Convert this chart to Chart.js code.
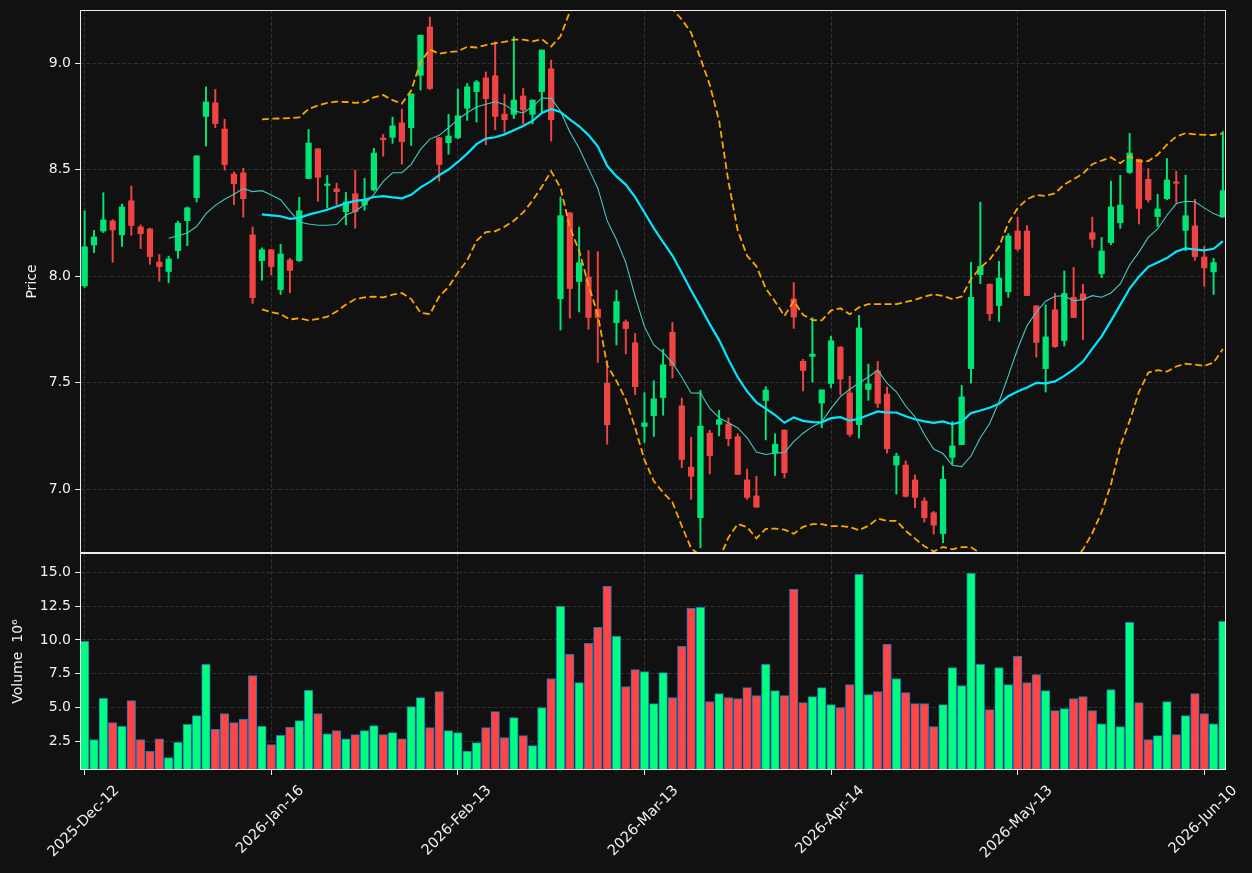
<!DOCTYPE html>
<html>
<head>
<meta charset="utf-8">
<script src="https://cdn.jsdelivr.net/npm/chart.js@4.4.1/dist/chart.umd.min.js"></script>
<style>
html, body { margin: 0; padding: 0; background: #111111; }
#wrap { position: relative; width: 1252px; height: 873px; overflow: hidden; }
canvas { position: absolute; left: 0; }
#cPrice { top: 0; }
#cVol { top: 553px; }
</style>
</head>
<body>
<div id="wrap">
  <canvas id="cPrice" width="1252" height="553"></canvas>
  <canvas id="cVol" width="1252" height="320"></canvas>
</div>
<script>
// x-axis labels (bar index -> date)
const tickIdx = [0, 20, 40, 60, 80, 100, 120];
const tickLabels = ['2025-Dec-12', '2026-Jan-16', '2026-Feb-13', '2026-Mar-13', '2026-Apr-14', '2026-May-13', '2026-Jun-10'];
const priceTicks = [7.0, 7.5, 8.0, 8.5, 9.0];
const volTicks = [2.5, 5.0, 7.5, 10.0, 12.5, 15.0];

// OHLC, one value per trading day
const opens = [7.955, 8.146, 8.212, 8.259, 8.194, 8.354, 8.231, 8.222, 8.066, 8.022,
  8.120, 8.261, 8.369, 8.750, 8.814, 8.691, 8.480, 8.485, 8.194, 8.073,
  8.124, 7.937, 8.076, 8.073, 8.459, 8.598, 8.426, 8.410, 8.303, 8.387,
  8.335, 8.405, 8.644, 8.652, 8.720, 8.697, 8.943, 9.170, 8.650, 8.627,
  8.650, 8.789, 8.867, 8.931, 8.941, 8.761, 8.760, 8.846, 8.760, 8.866,
  8.974, 7.894, 8.297, 7.975, 7.996, 7.845, 7.497, 7.782, 7.785, 7.687,
  7.294, 7.345, 7.430, 7.737, 7.391, 7.103, 6.866, 7.263, 7.304, 7.306,
  7.246, 7.043, 6.968, 7.416, 7.169, 7.277, 7.893, 7.600, 7.623, 7.404,
  7.496, 7.667, 7.452, 7.303, 7.468, 7.555, 7.446, 7.113, 7.113, 7.043,
  6.944, 6.889, 6.791, 7.149, 7.209, 7.566, 8.007, 7.962, 7.862, 7.927,
  8.212, 8.212, 7.860, 7.566, 7.842, 7.698, 7.901, 7.917, 8.204, 8.012,
  8.158, 8.251, 8.487, 8.549, 8.455, 8.280, 8.364, 8.442, 8.215, 8.236,
  8.090, 8.020, 8.278];
const highs = [8.307, 8.215, 8.392, 8.266, 8.339, 8.423, 8.241, 8.226, 8.102, 8.094,
  8.258, 8.325, 8.565, 8.889, 8.877, 8.737, 8.490, 8.506, 8.231, 8.133,
  8.126, 8.150, 8.084, 8.370, 8.689, 8.600, 8.473, 8.437, 8.393, 8.498,
  8.459, 8.601, 8.666, 8.747, 8.784, 8.856, 9.132, 9.217, 8.652, 8.760,
  8.879, 8.905, 8.920, 8.959, 9.100, 8.854, 9.124, 8.882, 8.828, 9.062,
  9.015, 8.372, 8.299, 8.230, 8.120, 8.115, 7.603, 7.934, 7.795, 7.731,
  7.453, 7.509, 7.657, 7.783, 7.428, 7.244, 7.464, 7.276, 7.370, 7.334,
  7.260, 7.094, 7.061, 7.481, 7.260, 7.279, 7.970, 7.610, 7.805, 7.466,
  7.718, 7.669, 7.530, 7.816, 7.587, 7.600, 7.479, 7.169, 7.133, 7.067,
  6.959, 6.895, 7.108, 7.317, 7.487, 8.065, 8.348, 7.964, 8.070, 8.200,
  8.277, 8.238, 7.862, 7.865, 7.919, 8.024, 8.042, 7.962, 8.277, 8.182,
  8.446, 8.474, 8.671, 8.551, 8.506, 8.385, 8.553, 8.493, 8.474, 8.361,
  8.140, 8.084, 8.679];
const lows = [7.947, 8.110, 8.205, 8.065, 8.140, 8.192, 8.130, 8.056, 7.976, 7.970,
  8.084, 8.143, 8.348, 8.611, 8.697, 8.498, 8.336, 8.277, 7.872, 7.981,
  8.006, 7.914, 7.922, 8.068, 8.459, 8.352, 8.320, 8.334, 8.241, 8.225,
  8.310, 8.400, 8.563, 8.624, 8.526, 8.614, 8.874, 8.876, 8.446, 8.573,
  8.645, 8.732, 8.724, 8.617, 8.688, 8.675, 8.740, 8.715, 8.715, 8.773,
  8.634, 7.747, 7.803, 7.832, 7.751, 7.595, 7.211, 7.677, 7.636, 7.443,
  7.219, 7.247, 7.347, 7.522, 7.100, 6.952, 6.724, 7.071, 7.250, 7.203,
  7.069, 6.952, 6.915, 7.231, 7.064, 7.052, 7.755, 7.461, 7.502, 7.288,
  7.476, 7.443, 7.247, 7.239, 7.417, 7.383, 7.169, 6.977, 6.963, 6.912,
  6.845, 6.789, 6.748, 7.116, 7.209, 7.497, 7.965, 7.792, 7.788, 7.901,
  8.119, 7.909, 7.620, 7.456, 7.666, 7.672, 7.806, 7.702, 8.135, 7.993,
  8.148, 8.225, 8.483, 8.245, 8.348, 8.233, 8.359, 8.346, 8.119, 8.074,
  7.953, 7.914, 8.278];
const closes = [8.138, 8.184, 8.264, 8.217, 8.325, 8.238, 8.200, 8.092, 8.045, 8.081,
  8.249, 8.321, 8.565, 8.818, 8.717, 8.524, 8.434, 8.364, 7.899, 8.124,
  8.045, 8.104, 8.027, 8.307, 8.625, 8.464, 8.432, 8.397, 8.348, 8.303,
  8.360, 8.578, 8.641, 8.706, 8.632, 8.856, 9.132, 8.881, 8.524, 8.658,
  8.753, 8.889, 8.912, 8.833, 8.750, 8.735, 8.827, 8.781, 8.827, 9.062,
  8.735, 8.284, 7.942, 8.063, 7.806, 7.806, 7.302, 7.881, 7.754, 7.481,
  7.311, 7.424, 7.584, 7.580, 7.139, 7.060, 7.296, 7.157, 7.326, 7.237,
  7.069, 6.961, 6.915, 7.465, 7.211, 7.077, 7.808, 7.557, 7.634, 7.466,
  7.697, 7.517, 7.257, 7.757, 7.494, 7.403, 7.190, 7.155, 6.966, 6.961,
  6.866, 6.831, 7.047, 7.203, 7.433, 7.901, 8.046, 7.824, 7.991, 8.189,
  8.128, 7.909, 7.689, 7.715, 7.669, 7.919, 7.806, 7.888, 8.173, 8.118,
  8.325, 8.334, 8.578, 8.318, 8.359, 8.316, 8.452, 8.436, 8.284, 8.092,
  8.039, 8.064, 8.402];
// volume in millions
const volumes = [9.89, 2.63, 5.69, 3.89, 3.62, 5.52, 2.63, 1.77, 2.70, 1.30,
  2.43, 3.77, 4.41, 8.19, 3.40, 4.56, 3.89, 4.14, 7.37, 3.62,
  2.26, 2.95, 3.54, 4.04, 6.28, 4.56, 3.07, 3.30, 2.70, 3.00,
  3.30, 3.67, 3.00, 3.15, 2.70, 5.07, 5.74, 3.52, 6.19, 3.30,
  3.15, 1.79, 2.41, 3.52, 4.70, 2.78, 4.26, 2.93, 2.19, 5.00,
  7.15, 12.48, 8.93, 6.85, 9.74, 10.93, 13.96, 10.26, 6.56, 7.81,
  7.67, 5.30, 7.59, 5.74, 9.52, 12.33, 12.41, 5.44, 6.04, 5.74,
  5.67, 6.48, 5.89, 8.19, 6.26, 5.89, 13.74, 5.37, 5.81, 6.48,
  5.22, 5.00, 6.70, 14.85, 5.96, 6.19, 9.67, 7.15, 6.11, 5.30,
  5.30, 3.59, 5.22, 7.96, 6.63, 14.93, 8.19, 4.85, 7.96, 6.70,
  8.78, 6.85, 7.44, 6.26, 4.78, 4.93, 5.67, 5.81, 4.78, 3.81,
  6.33, 3.59, 11.30, 5.37, 2.63, 2.93, 5.44, 3.00, 4.41, 6.04,
  4.56, 3.81, 11.37];

// moving averages and 20-day bands of the closes, as in the original plot
function sma(arr, n) {
    return arr.map((_, i) => i < n - 1 ? null : arr.slice(i - n + 1, i + 1).reduce((a, b) => a + b, 0) / n);
}
function band(arr, n, k) {
    const m = sma(arr, n);
    return arr.map((_, i) => {
        if (m[i] === null) return null;
        const w = arr.slice(i - n + 1, i + 1);
        const sd = Math.sqrt(w.reduce((a, b) => a + (b - m[i]) ** 2, 0) / n);
        return m[i] + k * sd;
    });
}
const ma10 = sma(closes, 10);
const ma20 = sma(closes, 20);
const bbUp = band(closes, 20, 2);
const bbLo = band(closes, 20, -2);

const xMin = -0.5, xMax = 122.33;
const gridColor = 'rgba(255,255,255,0.17)';
const textColor = '#f2f2f2';
const isUp = closes.map((c, i) => c >= opens[i]);
const pts = arr => arr.map((v, i) => ({ x: i, y: v }));

Chart.defaults.font.family = "'DejaVu Sans', sans-serif";
Chart.defaults.font.size = 14;
Chart.defaults.color = textColor;

// no extra room round the axes: the panels sit exactly where the layout padding says
function noPad(s) {
    s.paddingTop = 0; s.paddingBottom = 0; s.paddingLeft = 0; s.paddingRight = 0;
}

// white frame round each panel
const framePlugin = {
    id: 'frame',
    afterDatasetsDraw(chart) {
        const a = chart.chartArea, ctx = chart.ctx;
        ctx.save();
        ctx.strokeStyle = '#ececec';
        ctx.lineWidth = 1;
        ctx.strokeRect(Math.round(a.left) + 0.5, Math.round(a.top) + 0.5,
            Math.round(a.right - a.left) - 1, Math.round(a.bottom - a.top) - 1);
        ctx.restore();
    }
};

// rotated date labels, centred on the tick like matplotlib does
const xLabelPlugin = {
    id: 'xLabels',
    afterDraw(chart) {
        const xs = chart.scales.x, ctx = chart.ctx, bottom = chart.chartArea.bottom;
        ctx.save();
        ctx.font = "14.5px 'DejaVu Sans'";
        ctx.fillStyle = textColor;
        ctx.textAlign = 'center';
        ctx.textBaseline = 'middle';
        tickIdx.forEach((v, k) => {
            const w = ctx.measureText(tickLabels[k]).width;
            const px = xs.getPixelForValue(v) - 1;
            const cy = bottom + 13 + (w + 15) * Math.SQRT1_2 / 2;
            ctx.save();
            ctx.translate(px, cy);
            ctx.rotate(-Math.PI / 4);
            ctx.fillText(tickLabels[k], 0, 0);
            ctx.restore();
        });
        ctx.restore();
    }
};

function xScale(h) {
    return {
        type: 'linear', min: xMin, max: xMax, offset: false,
        afterFit: s => { s.height = h; noPad(s); },
        afterBuildTicks: s => { s.ticks = tickIdx.map(v => ({ value: v })); },
        ticks: { display: false },
        grid: { offset: false, color: gridColor, lineWidth: 0.8, drawTicks: h > 0, tickColor: '#ececec', tickLength: 5, tickWidth: 1 },
        border: { display: false, dash: [4, 2] }
    };
}

new Chart(document.getElementById('cPrice'), {
    data: {
        datasets: [
            {
                type: 'bar', label: 'wick', order: 5, grouped: false,
                data: lows.map((l, i) => ({ x: i, y: [l, highs[i]] })),
                backgroundColor: isUp.map(u => u ? '#00e676' : '#ef4444'),
                barThickness: 1.3, borderWidth: 0
            },
            {
                type: 'bar', label: 'body', order: 4, grouped: false,
                data: opens.map((o, i) => ({ x: i, y: [o, closes[i]] })),
                backgroundColor: isUp.map(u => u ? '#00e676' : '#ef4444'),
                barThickness: 5.6, borderWidth: 0, minBarLength: 1.5
            },
            {
                type: 'line', label: 'BB upper', order: 3, data: pts(bbUp),
                borderColor: '#ffa500', borderWidth: 1.8, borderDash: [7, 3.5],
                pointRadius: 0, tension: 0, clip: 0
            },
            {
                type: 'line', label: 'BB lower', order: 3, data: pts(bbLo),
                borderColor: '#ffa500', borderWidth: 1.8, borderDash: [7, 3.5],
                pointRadius: 0, tension: 0, clip: 0
            },
            {
                type: 'line', label: 'MA20', order: 2, data: pts(ma20),
                borderColor: '#00e8ff', borderWidth: 2.2,
                pointRadius: 0, tension: 0, clip: 0
            },
            {
                type: 'line', label: 'MA10', order: 1, data: pts(ma10),
                borderColor: '#45c8c2', borderWidth: 1.1,
                pointRadius: 0, tension: 0, clip: 0
            }
        ]
    },
    options: {
        responsive: false, animation: false, devicePixelRatio: 1,
        layout: { autoPadding: false, padding: { top: 10, right: 26, bottom: 0, left: 0 } },
        plugins: { legend: { display: false }, tooltip: { enabled: false } },
        scales: {
            x: xScale(0),
            y: {
                min: 6.70, max: 9.25,
                afterFit: s => { s.width = 80; noPad(s); },
                afterBuildTicks: s => { s.ticks = priceTicks.map(v => ({ value: v })); },
                ticks: { color: textColor, padding: 4, callback: v => Number(v).toFixed(1) },
                grid: { color: gridColor, lineWidth: 0.8, tickColor: '#ececec', tickLength: 5, tickWidth: 1 },
                border: { display: false, dash: [4, 2] },
                title: { display: true, text: 'Price', color: textColor, padding: { top: 24, bottom: 0 } }
            }
        }
    },
    plugins: [framePlugin]
});

new Chart(document.getElementById('cVol'), {
    type: 'bar',
    data: {
        datasets: [{
            label: 'Volume',
            data: pts(volumes),
            backgroundColor: isUp.map(u => u ? '#00ff80' : '#ff4545'),
            borderColor: '#1f77b4', borderWidth: 1,
            barThickness: 8.6
        }]
    },
    options: {
        responsive: false, animation: false, devicePixelRatio: 1,
        layout: { autoPadding: false, padding: { top: 0, right: 26, bottom: 0, left: 0 } },
        plugins: { legend: { display: false }, tooltip: { enabled: false } },
        scales: {
            x: xScale(103),
            y: {
                min: 0.3 * Math.min(...volumes), max: 1.1 * Math.max(...volumes),
                afterFit: s => { s.width = 80; noPad(s); },
                afterBuildTicks: s => { s.ticks = volTicks.map(v => ({ value: v })); },
                ticks: { color: textColor, padding: 4, callback: v => Number(v).toFixed(1) },
                grid: { color: gridColor, lineWidth: 0.8, tickColor: '#ececec', tickLength: 5, tickWidth: 1 },
                border: { display: false, dash: [4, 2] },
                title: { display: true, text: 'Volume  10⁶', color: textColor, padding: { top: 10, bottom: 0 } }
            }
        }
    },
    plugins: [framePlugin, xLabelPlugin]
});
</script>
</body>
</html>
